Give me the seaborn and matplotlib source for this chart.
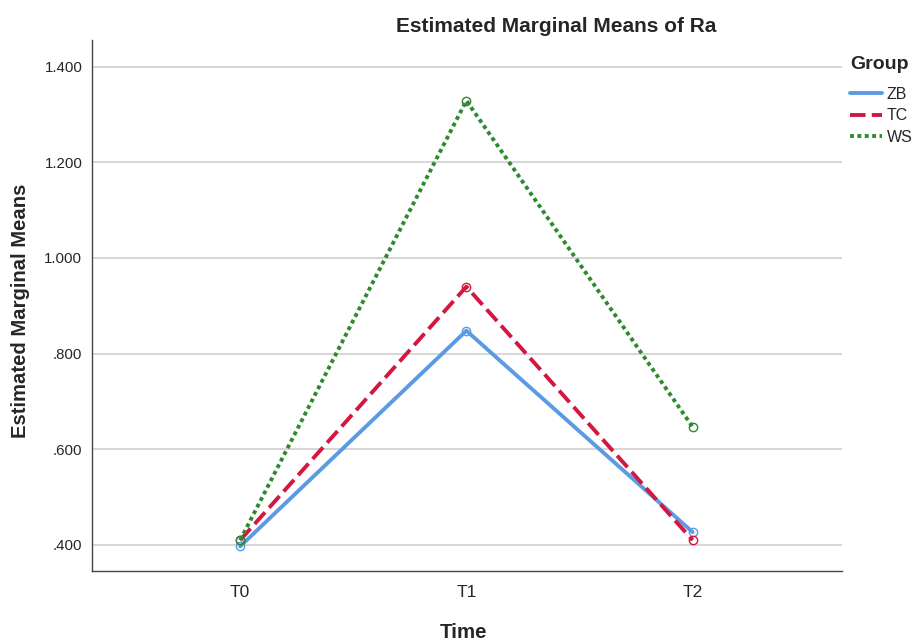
import matplotlib
matplotlib.use("Agg")
import matplotlib.pyplot as plt
import seaborn as sns
import pandas as pd

# estimated marginal means of Ra per group and time
times = ["T0", "T1", "T2"]
groups = ["ZB", "TC", "WS"]
zb = [0.397, 0.848, 0.427]
tc = [0.410, 0.940, 0.410]
ws = [0.410, 1.329, 0.647]
yticks = [0.4, 0.6, 0.8, 1.0, 1.2, 1.4]
ytick_labels = [".400", ".600", ".800", "1.000", "1.200", "1.400"]

df = pd.DataFrame({
    "Time": times * 3,
    "x": list(range(3)) * 3,
    "Mean": zb + tc + ws,
    "Group": [g for g in groups for _ in times],
})

sns.set_style("white")
plt.rcParams["font.family"] = ["Liberation Sans", "DejaVu Sans"]

colors = {"ZB": "#5b9be3", "TC": "#d4173f", "WS": "#2f8a2f"}
styles = {"ZB": "-", "TC": (0, (4, 1.6)), "WS": (0, (1, 0.9))}

fig = plt.figure(figsize=(9.19, 6.43), dpi=100)
ax = fig.add_axes([0.1001, 0.112, 0.816, 0.826])

for g in groups:
    sub = df[df["Group"] == g]
    sns.lineplot(data=sub, x="x", y="Mean", ax=ax, color=colors[g], lw=2.8,
                 linestyle=styles[g], label=g, marker="o", markersize=6,
                 markerfacecolor="none", markeredgecolor=colors[g], markeredgewidth=1.0)

for line in ax.lines:
    line.set_markerfacecolor("none")

ax.set_xlim(-0.655, 2.66)
ax.set_ylim(0.3456, 1.456)
ax.set_xticks(range(3))
ax.set_xticklabels(times, fontsize=12.5)
ax.set_yticks(yticks)
ax.set_yticklabels(ytick_labels, fontsize=10.8)
ax.yaxis.grid(True, color="#cfcfcf", lw=1.2)
ax.set_axisbelow(True)
for s in ["top", "right"]:
    ax.spines[s].set_visible(False)
for s in ["left", "bottom"]:
    ax.spines[s].set_color("#444444")
    ax.spines[s].set_linewidth(1.0)
ax.tick_params(axis="y", length=0, pad=7)
ax.tick_params(axis="x", length=0, pad=10)

ax.set_title("Estimated Marginal Means of Ra", fontsize=15, fontweight="bold", x=0.619, y=1.0)
ax.set_xlabel("Time", fontsize=14.8, fontweight="bold")
ax.set_ylabel("Estimated Marginal Means", fontsize=14.6, fontweight="bold")
ax.xaxis.set_label_coords(0.496, -0.098)
ax.yaxis.set_label_coords(-0.082, 0.49)

leg = ax.legend(title="Group", loc="upper left", bbox_to_anchor=(0.925, 0.913),
                bbox_transform=fig.transFigure,
                frameon=False, fontsize=11.5, handlelength=2.0, handletextpad=0.3,
                labelspacing=0.4, borderaxespad=0.0, borderpad=0.0)
leg.get_title().set_fontweight("bold")
leg.get_title().set_fontsize(14)
leg._legend_box.align = "left"
leg._legend_box.sep = 10
for h in leg.legend_handles:
    h.set_marker("")

fig.savefig("out.png", dpi=100)
